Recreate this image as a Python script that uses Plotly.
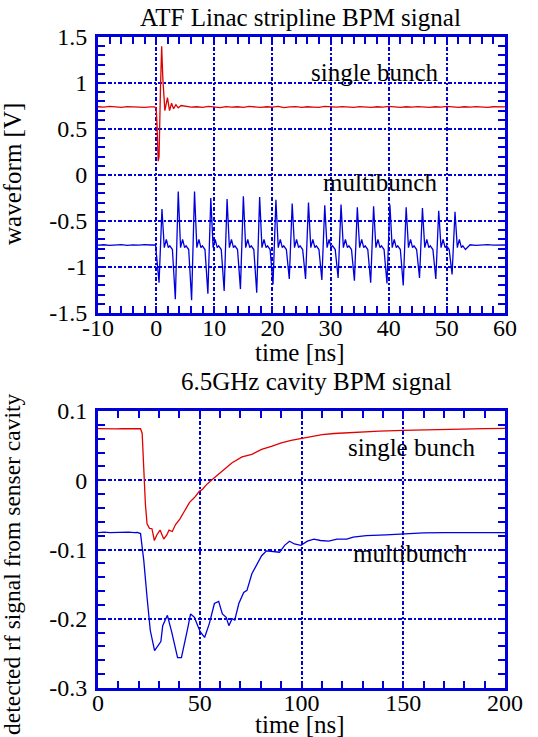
import plotly.graph_objects as go

# ---- top panel: stripline BPM waveform [V] vs time [ns]
sb_pre_t = [-10, -9, -8, -7, -6, -5, -4, -3, -2, -1, -0.3]
sb_pre_v = [0.742, 0.738, 0.745, 0.74, 0.736, 0.744, 0.739, 0.742, 0.736, 0.741, 0.74]
sb_spike_t = [0.0, 0.15, 0.35, 0.5, 0.75, 0.95, 1.15, 1.5, 1.95, 2.3, 2.65, 3.0, 3.4, 3.8, 4.3]
sb_spike_v = [0.73, 0.55, 0.15, 0.2, 0.95, 1.40, 1.05, 0.70, 0.84, 0.70, 0.78, 0.72, 0.765, 0.73, 0.755]
sb_post_t = [5, 6, 7, 8, 9, 10, 11, 12, 13, 14, 15, 16, 17, 18, 19, 20, 21, 22, 23, 24,
             25, 26, 27, 28, 29, 30, 31, 32, 33, 34, 35, 36, 37, 38, 39, 40, 41, 42, 43, 44,
             45, 46, 47, 48, 49, 50, 51, 52, 53, 54, 55, 56, 57, 58, 59, 60]
sb_post_v = [0.745, 0.738, 0.742, 0.735, 0.745, 0.74, 0.733, 0.744, 0.738, 0.742,
             0.736, 0.745, 0.74, 0.735, 0.742, 0.738, 0.745, 0.732, 0.74, 0.744,
             0.736, 0.742, 0.738, 0.735, 0.745, 0.74, 0.737, 0.743, 0.739, 0.735,
             0.744, 0.74, 0.736, 0.742, 0.738, 0.745, 0.74, 0.735, 0.742, 0.737,
             0.744, 0.739, 0.735, 0.742, 0.738, 0.745, 0.74, 0.736, 0.742, 0.738,
             0.744, 0.739, 0.735, 0.742, 0.738, 0.74]

mb_pre_t = [-10, -9, -8, -7, -6, -5, -4, -3, -2, -1, -0.1]
mb_pre_v = [-0.762, -0.758, -0.765, -0.76, -0.756, -0.764, -0.759, -0.763, -0.757, -0.761, -0.76]
bunch_peak_t = [1.0, 3.8, 6.6, 9.4, 12.2, 15.0, 17.8, 20.6, 23.4, 26.2,
                29.0, 31.8, 34.6, 37.4, 40.2, 43.0, 45.8, 48.6, 51.4]
bunch_peak_v = [-0.37, -0.18, -0.18, -0.25, -0.26, -0.23, -0.24, -0.27, -0.31, -0.30,
                -0.33, -0.32, -0.35, -0.34, -0.32, -0.35, -0.36, -0.39, -0.40]
bunch_trough_v = [-1.17, -1.35, -1.36, -1.29, -1.26, -1.24, -1.28, -1.19, -1.13, -1.13,
                  -1.14, -1.12, -1.15, -1.17, -1.18, -1.20, -1.12, -1.13, -1.08]
# ringing after each bunch (time after peak, value)
ring_dt = [0.4, 0.75, 1.1, 1.35, 1.8]
ring_v = [-0.79, -0.70, -0.79, -0.77, -0.81]
mb_post_t = [54, 55, 56, 57, 58, 59, 60]
mb_post_v = [-0.758, -0.764, -0.76, -0.756, -0.763, -0.759, -0.761]

# ---- bottom panel: cavity BPM detected signal vs time [ns]
cr_t = [0, 3, 6, 9, 12, 15, 18, 20.9, 21.7, 22.5, 23.3, 24.1, 25.3, 26.5, 27.7, 28.9,
        30.5, 32.3, 33.8, 34.9, 36.5, 38.1, 40.2, 42.6, 45.0, 47.4, 49.8, 51.4, 53.1,
        56.3, 59.5, 61.1, 65.9, 70.8, 75.6, 80.4, 85.2, 90.1, 94.9, 101.3, 106.1,
        110.1, 116, 122.2, 130, 138.3, 150, 160, 170.4, 180, 190, 200]
cr_v = [0.0745, 0.0742, 0.0746, 0.0743, 0.0745, 0.0742, 0.0745, 0.0744, 0.068, 0.013,
        -0.035, -0.063, -0.0695, -0.070, -0.087, -0.079, -0.072, -0.085, -0.079, -0.072,
        -0.074, -0.064, -0.056, -0.044, -0.032, -0.025, -0.016, -0.013, -0.007, 0.0014,
        0.0086, 0.0134, 0.0254, 0.0336, 0.0374, 0.0446, 0.049, 0.054, 0.0576, 0.0614,
        0.0638, 0.066, 0.0675, 0.0686, 0.070, 0.071, 0.072, 0.0728, 0.0734, 0.074,
        0.0745, 0.0748]
cb_t = [0, 3, 6, 9, 12, 15, 18, 19.3, 20.9, 22.5, 24.1, 25.7, 27.8, 29.7, 30.9, 31.8,
        34.1, 36.2, 37.5, 39.1, 41.0, 42.6, 44.2, 45.5, 47.4, 49.0, 50.3, 52.4, 54.7,
        57.2, 59.3, 61.1, 63.0, 64.3, 65.9, 67.2, 69.2, 71.6, 73.2, 75.6, 78.0, 80.4,
        82.8, 86.0, 89.2, 91.7, 94.1, 96.5, 99.7, 102.9, 106.1, 109.3, 113.4, 117.4,
        122.2, 125.4, 131.8, 141.5, 151.2, 160, 170.4, 180, 190, 200]
cb_v = [-0.0755, -0.0750, -0.0757, -0.0752, -0.0755, -0.0750, -0.0756, -0.0753, -0.077,
        -0.116, -0.169, -0.217, -0.246, -0.238, -0.233, -0.210, -0.195, -0.219, -0.236,
        -0.256, -0.256, -0.236, -0.212, -0.193, -0.198, -0.210, -0.219, -0.227, -0.207,
        -0.178, -0.175, -0.193, -0.198, -0.210, -0.200, -0.202, -0.178, -0.162, -0.159,
        -0.135, -0.123, -0.109, -0.102, -0.103, -0.104, -0.094, -0.088, -0.092, -0.094,
        -0.088, -0.085, -0.087, -0.088, -0.085, -0.085, -0.082, -0.080, -0.079, -0.077,
        -0.076, -0.0755, -0.0758, -0.0754, -0.0756]

top_xticks = [-10, 0, 10, 20, 30, 40, 50, 60]
top_yticks = [1.5, 1, 0.5, 0, -0.5, -1, -1.5]
bot_xticks = [0, 50, 100, 150, 200]
bot_yticks = [0.1, 0, -0.1, -0.2, -0.3]

# assemble the multibunch trace from the per-bunch readings
mb_t = list(mb_pre_t)
mb_v = list(mb_pre_v)
for tp, vp, vt in zip(bunch_peak_t, bunch_peak_v, bunch_trough_v):
    mb_t += [tp - 0.5, tp]
    mb_v += [vt, vp]
    mb_t += [tp + d for d in ring_dt]
    mb_v += ring_v
mb_t += mb_post_t
mb_v += mb_post_v

W, H = 538, 737
BLUE = "#0000dd"
RED = "#e00000"
FONT = "Liberation Serif"

fig = go.Figure()
fig.add_trace(go.Scatter(x=sb_pre_t + sb_spike_t + sb_post_t, y=sb_pre_v + sb_spike_v + sb_post_v,
                         mode="lines", line=dict(color=RED, width=1.3), xaxis="x", yaxis="y"))
fig.add_trace(go.Scatter(x=mb_t, y=mb_v, mode="lines", line=dict(color=BLUE, width=1.3),
                         xaxis="x", yaxis="y"))
fig.add_trace(go.Scatter(x=cr_t, y=cr_v, mode="lines", line=dict(color=RED, width=1.3),
                         xaxis="x2", yaxis="y2"))
fig.add_trace(go.Scatter(x=cb_t, y=cb_v, mode="lines", line=dict(color=BLUE, width=1.3),
                         xaxis="x2", yaxis="y2"))

xdom = [98 / W, 505 / W]
ydom_top = [1 - 313 / H, 1 - 37 / H]
ydom_bot = [1 - 688 / H, 1 - 411 / H]


def axis(dom, rng, ticks, minor_dtick, anchor, standoff):
    return dict(domain=dom, range=rng, anchor=anchor, automargin=False,
                tickmode="array", tickvals=ticks, ticktext=["%g" % t for t in ticks],
                ticks="inside", ticklen=7, tickwidth=1.5, tickcolor=BLUE,
                minor=dict(ticks="inside", ticklen=7, tickwidth=1.5, tickcolor=BLUE,
                           tickmode="linear", tick0=0, dtick=minor_dtick, showgrid=False),
                showline=True, linecolor=BLUE, linewidth=3, mirror="allticks",
                showgrid=True, gridcolor=BLUE, gridwidth=1.5, griddash="4px,2px,2px,2px",
                zeroline=False, tickfont=dict(family=FONT, size=24, color="black"),
                ticklabelstandoff=standoff)


fig.update_layout(
    template="none",
    width=W, height=H, margin=dict(l=0, r=0, t=0, b=0, pad=0),
    paper_bgcolor="white", plot_bgcolor="white", showlegend=False, hovermode=False,
    xaxis=axis(xdom, [-10, 60], top_xticks, 2, "y", -9),
    yaxis=axis(ydom_top, [-1.5, 1.5], top_yticks, 0.1, "x", 3),
    xaxis2=axis(xdom, [0, 200], bot_xticks, 10, "y2", -9),
    yaxis2=axis(ydom_bot, [-0.3, 0.1], bot_yticks, 0.02, "x2", 3),
)


def px(x, y):
    return dict(x=x / W, y=1 - y / H, xref="paper", yref="paper")


anns = [
    ("ATF Linac stripline BPM signal", 300, 17, 0, 25),
    ("time [ns]", 300, 352, 0, 25),
    ("waveform [V]", 12, 174, -90, 25),
    ("6.5GHz cavity BPM signal", 316, 381, 0, 25),
    ("time [ns]", 300, 724, 0, 25),
    ("detected rf signal from senser cavity", 12, 564, -90, 23.5),
    ("single bunch", 375, 72, 0, 25),
    ("multibunch", 380, 183, 0, 25),
    ("single bunch", 412, 447, 0, 25),
    ("multibunch", 410, 553, 0, 25),
]
for text, x, y, ang, size in anns:
    fig.add_annotation(text=text, showarrow=False, textangle=ang,
                       font=dict(family=FONT, size=size, color="black"),
                       xanchor="center", yanchor="middle", **px(x, y))

fig.write_html("out.html", config={"displayModeBar": False},
               post_script="document.body.style.margin='0';")
